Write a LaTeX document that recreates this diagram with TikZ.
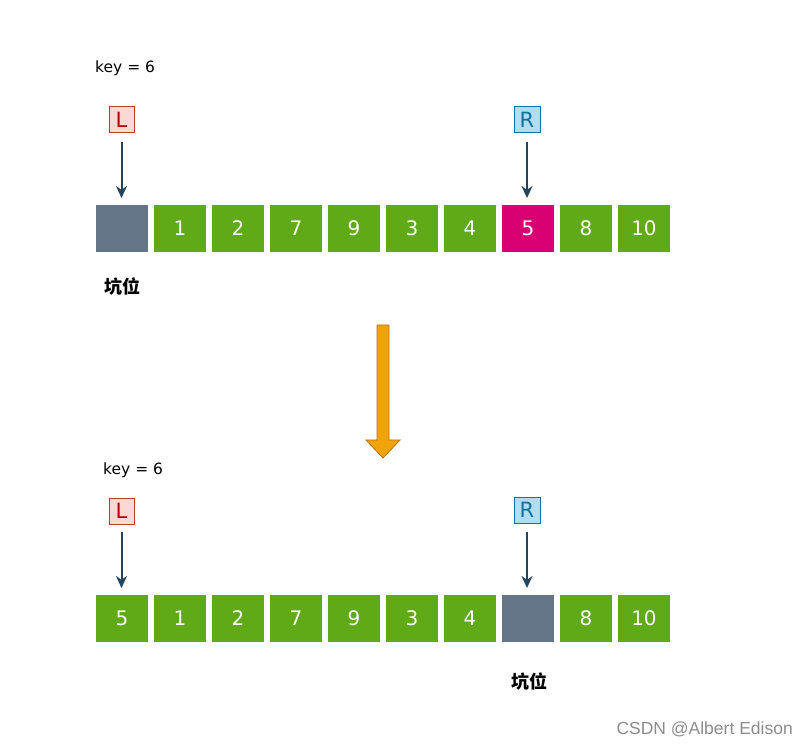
\documentclass[tikz,border=0pt]{standalone}
\usepackage{fontspec}
\setmainfont{DejaVu Sans}
\newfontfamily\cjk{Noto Sans CJK SC}
\newfontfamily\wm{Liberation Sans}
\usetikzlibrary{arrows.meta}
\definecolor{cgreen}{HTML}{60A917}
\definecolor{cgrey}{HTML}{647687}
\definecolor{cmag}{HTML}{D80073}
\definecolor{lfill}{HTML}{FAD9D5}
\definecolor{lline}{HTML}{AE4132}
\definecolor{ltext}{HTML}{B20000}
\definecolor{rfill}{HTML}{B1DDF0}
\definecolor{rline}{HTML}{10739E}
\definecolor{arr}{HTML}{23445D}
\definecolor{orf}{HTML}{F0A30A}
\definecolor{orl}{HTML}{BD7000}
\tikzset{
  cell/.style={minimum width=52pt,minimum height=47pt,inner sep=0pt,text=white,font=\fontsize{20}{20}\selectfont},
  gcell/.style={cell,fill=cgreen},
  hcell/.style={cell,fill=cgrey},
  mcell/.style={cell,fill=cmag},
  lbox/.style={draw=lline,fill=lfill,text=ltext,minimum width=25pt,minimum height=26pt,inner sep=0pt,line width=1pt,font=\fontsize{21}{21}\selectfont},
  rbox/.style={draw=rline,fill=rfill,text=rline,minimum width=26pt,minimum height=26pt,inner sep=0pt,line width=1pt,font=\fontsize{21}{21}\selectfont},
  ptr/.style={draw=arr,line width=2pt,-{Stealth[length=12pt,width=11pt]}},
  keytxt/.style={font=\fontsize{15.5}{15.5}\selectfont,inner sep=0pt},
  pit/.style={font=\cjk\bfseries\fontsize{18}{18}\selectfont,inner sep=0pt}
}
\begin{document}
\begin{tikzpicture}[x=1pt,y=-1pt]
\useasboundingbox (0,0) rectangle (807,746);
% top
\node[keytxt,anchor=west] (k1) at (95,68) {key = 6};
\node[lbox] (L1) at (121.5,120) {L};
\node[rbox] (R1) at (527,120) {R};
\node[hcell] (a0) at (122,228.5) {};
\node[gcell] (a1) at (180,228.5) {1};
\node[gcell] (a2) at (238,228.5) {2};
\node[gcell] (a3) at (296,228.5) {7};
\node[gcell] (a4) at (354,228.5) {9};
\node[gcell] (a5) at (412,228.5) {3};
\node[gcell] (a6) at (470,228.5) {4};
\node[mcell] (a7) at (528,228.5) {5};
\node[gcell] (a8) at (586,228.5) {8};
\node[gcell] (a9) at (644,228.5) {10};
\coordinate (l1s) at (121.5,142);
\coordinate (l1e) at (121.5,198);
\coordinate (r1s) at (527,142);
\coordinate (r1e) at (527,198);
\draw[ptr] (l1s) -- (l1e);
\draw[ptr] (r1s) -- (r1e);
\node[pit] (p1) at (122,287) {坑位};
% big arrow
\filldraw[fill=orf,draw=orl,line width=0.8pt] (377,325) -- (389,325) -- (389,440) -- (400,440) -- (383,458) -- (366,440) -- (377,440) -- cycle;
% bottom
\node[keytxt,anchor=west] (k2) at (103,470) {key = 6};
\node[lbox] (L2) at (121.5,511) {L};
\node[rbox] (R2) at (527,510) {R};
\node[gcell] (b0) at (122,618.5) {5};
\node[gcell] (b1) at (180,618.5) {1};
\node[gcell] (b2) at (238,618.5) {2};
\node[gcell] (b3) at (296,618.5) {7};
\node[gcell] (b4) at (354,618.5) {9};
\node[gcell] (b5) at (412,618.5) {3};
\node[gcell] (b6) at (470,618.5) {4};
\node[hcell] (b7) at (528,618.5) {};
\node[gcell] (b8) at (586,618.5) {8};
\node[gcell] (b9) at (644,618.5) {10};
\coordinate (l2s) at (121.5,532);
\coordinate (l2e) at (121.5,588);
\coordinate (r2s) at (527,532);
\coordinate (r2e) at (527,588);
\draw[ptr] (l2s) -- (l2e);
\draw[ptr] (r2s) -- (r2e);
\node[pit] (p2) at (529,682) {坑位};
\node[font=\wm\fontsize{17.5}{17.5}\selectfont,text=black!45,anchor=east,inner sep=0pt] (w) at (793,729) {CSDN @Albert Edison};
\end{tikzpicture}
\end{document}
